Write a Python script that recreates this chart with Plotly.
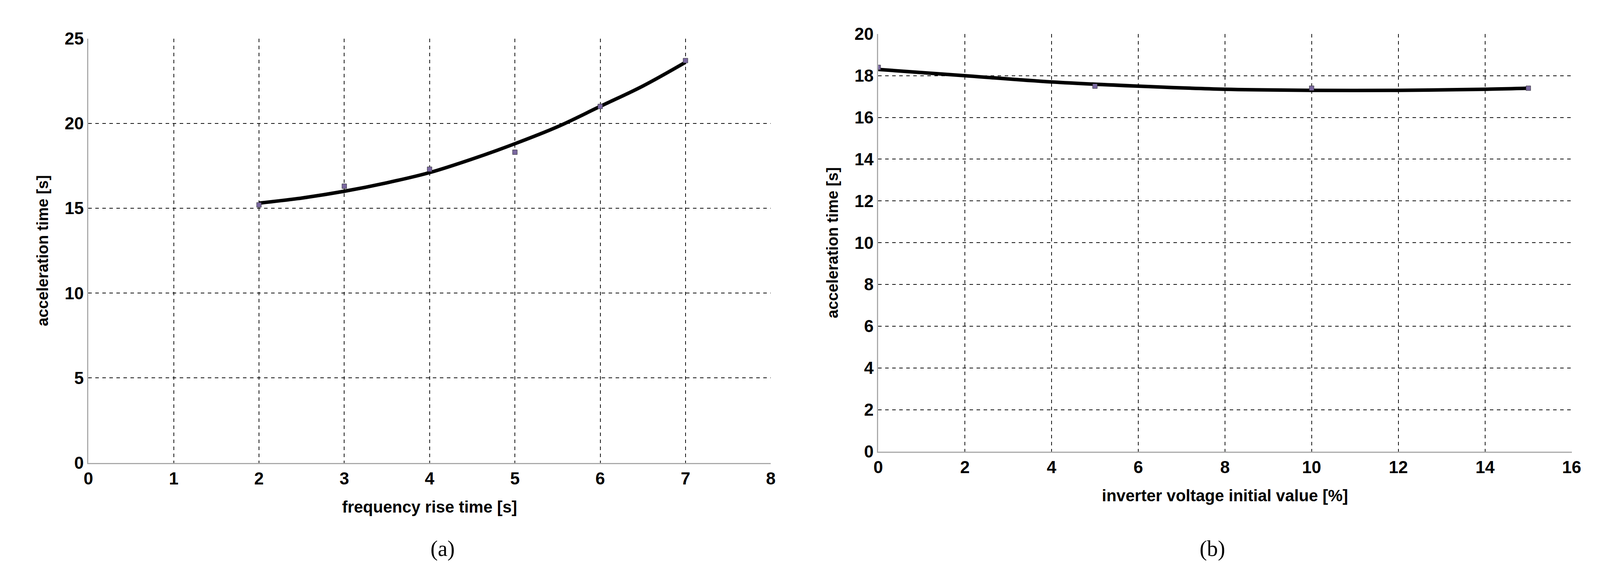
import plotly.graph_objects as go

a_x = [2, 3, 4, 5, 6, 7]
a_y = [15.2, 16.3, 17.3, 18.3, 21.0, 23.7]
a_fit_x = [2, 2.5, 3, 3.5, 4, 4.5, 5, 5.5, 6, 6.5, 7]
a_fit_y = [15.3, 15.6, 16.0, 16.5, 17.1, 17.9, 18.8, 19.8, 21.0, 22.2, 23.6]

b_x = [0, 5, 10, 15]
b_y = [18.4, 17.5, 17.4, 17.4]
b_fit_x = [0, 2, 4, 6, 8, 10, 12, 14, 15]
b_fit_y = [18.3, 18.0, 17.7, 17.5, 17.35, 17.3, 17.3, 17.35, 17.4]

FONT = "Liberation Sans"
fig = go.Figure()
for xs, ys, fx, fy, xa, ya in [(a_x, a_y, a_fit_x, a_fit_y, "x", "y"),
                                (b_x, b_y, b_fit_x, b_fit_y, "x2", "y2")]:
    fig.add_trace(go.Scatter(x=fx, y=fy, mode="lines", line=dict(color="black", width=9, shape="spline"),
                             xaxis=xa, yaxis=ya, showlegend=False))
    fig.add_trace(go.Scatter(x=xs, y=ys, mode="markers",
                             marker=dict(symbol="square", size=12, color="#7a68a0", line=dict(color="#333", width=1)),
                             xaxis=xa, yaxis=ya, showlegend=False))

ax = dict(showgrid=True, gridcolor="#111111", griddash="dash", gridwidth=2, showline=True, linecolor="#aaaaaa",
          linewidth=3, mirror=False, zeroline=False, ticks="", tickfont=dict(family=FONT, size=44, color="black"))
fig.update_layout(
    height=1505, autosize=True, paper_bgcolor="white", plot_bgcolor="white",
    margin=dict(l=0, r=0, t=0, b=0),
    font=dict(family=FONT, color="black"),
    xaxis=dict(ax, domain=[0.051, 0.483], range=[0, 8], dtick=1, anchor="y",
               title=dict(text="<b>frequency rise time [s]</b>", font=dict(size=42), standoff=35)),
    yaxis=dict(ax, domain=[0.209, 0.955], range=[0, 25], dtick=5, anchor="x",
               title=dict(text="<b>acceleration time [s]</b>", font=dict(size=40), standoff=30)),
    xaxis2=dict(ax, domain=[0.551, 0.99], range=[0, 16], dtick=2, anchor="y2",
                title=dict(text="<b>inverter voltage initial value [%]</b>", font=dict(size=42), standoff=35)),
    yaxis2=dict(ax, domain=[0.229, 0.963], range=[0, 20], dtick=2, anchor="x2",
                title=dict(text="<b>acceleration time [s]</b>", font=dict(size=40), standoff=30)),
)
fig.update_xaxes(tickprefix="<b>", ticksuffix="</b>")
fig.update_yaxes(tickprefix="<b>", ticksuffix="</b>")
fig.add_annotation(text="(a)", x=0.267, y=0.035, xref="paper", yref="paper", showarrow=False,
                   font=dict(family="Liberation Serif", size=56, color="black"))
fig.add_annotation(text="(b)", x=0.771, y=0.035, xref="paper", yref="paper", showarrow=False,
                   font=dict(family="Liberation Serif", size=56, color="black"))
fig.write_html("out.html", config={"responsive": True}, default_width="100%", default_height="1505px")
